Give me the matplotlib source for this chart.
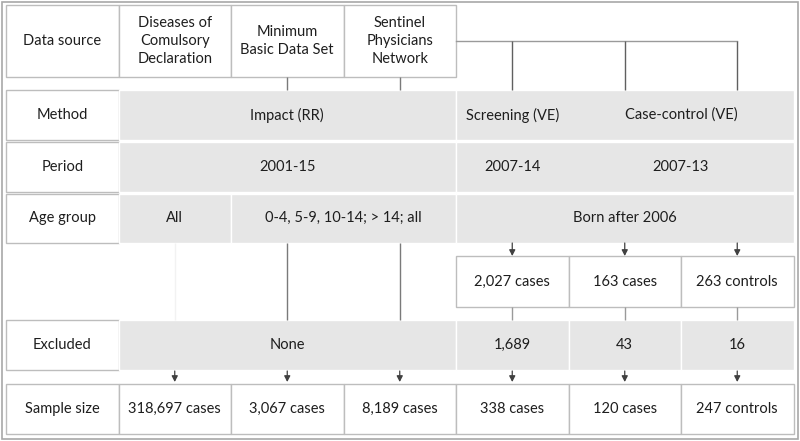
import matplotlib
matplotlib.use("Agg")
import matplotlib.pyplot as plt
from matplotlib.patches import Rectangle

plt.rcParams['font.family'] = ['Lato', 'DejaVu Sans']

# ---- data ----
row_labels = ["Data source", "Method", "Period", "Age group", "Excluded", "Sample size"]
sources = ["Diseases of\nComulsory\nDeclaration", "Minimum\nBasic Data Set", "Sentinel\nPhysicians\nNetwork"]
methods = ["Impact (RR)", "Screening (VE)", "Case-control (VE)"]
periods = ["2001-15", "2007-14", "2007-13"]
age_groups = ["All", "0-4, 5-9, 10-14; > 14; all", "Born after 2006"]
initial_counts = ["2,027 cases", "163 cases", "263 controls"]
excluded = ["None", "1,689", "43", "16"]
sample_sizes = ["318,697 cases", "3,067 cases", "8,189 cases", "338 cases", "120 cases", "247 controls"]

W, H = 800, 441
fig = plt.figure(figsize=(W / 100, H / 100), dpi=100)
ax = fig.add_axes([0, 0, 1, 1])
ax.set_xlim(0, W)
ax.set_ylim(H, 0)
ax.axis("off")

col_edges = [6, 118.5, 231, 343.5, 456, 568.5, 681, 793.5]
centers = [(col_edges[i] + col_edges[i + 1]) / 2 for i in range(7)]
GREY = "#e6e6e6"
BORDER = "#bdbdbd"
TXT = "#1e1e1e"
LINE = "#7a7a7a"
FS = 10.5

# outer frame
ax.add_patch(Rectangle((2, 1.5), 795.5, 437, fill=False, ec="#a8a8a8", lw=1.2))


def cell(x0, x1, y0, y1, text, fill="white", ec=BORDER, lw=1.0):
    ax.add_patch(Rectangle((x0, y0), x1 - x0, y1 - y0, fc=fill, ec=ec, lw=lw))
    if text:
        ax.text((x0 + x1) / 2, (y0 + y1) / 2, text, ha="center", va="center",
                fontsize=FS, color=TXT, linespacing=1.4)


def vline(x, y0, y1, color=LINE, lw=1.0):
    ax.plot([x, x], [y0, y1], color=color, lw=lw, solid_capstyle="butt")


def arrow(x, y0, y1):
    ax.annotate("", xy=(x, y1), xytext=(x, y0),
                arrowprops=dict(arrowstyle="-|>,head_length=0.35,head_width=0.18",
                                color="#404040", lw=0.9, shrinkA=0, shrinkB=0))


# rows (pixel y-ranges)
rows = {
    "src": (5, 77),
    "method": (90, 140),
    "period": (141.5, 192),
    "age": (193.5, 243),
    "init": (256, 307),
    "excl": (320, 370),
    "sample": (384, 434),
}

# Data source row
y0, y1 = rows["src"]
cell(col_edges[0], col_edges[1], y0, y1, row_labels[0])
for i, s in enumerate(sources):
    cell(col_edges[i + 1], col_edges[i + 2], y0, y1, s)

# connectors from sources to method row
for i in (2, 3):
    vline(centers[i], 77, 90)
ax.plot([col_edges[4], centers[6]], [41, 41], color="#9a9a9a", lw=1.0)
for i in (4, 5, 6):
    vline(centers[i], 41, 90, color="#606060")

# Method / Period / Age group rows
for key, lab in zip(["method", "period", "age"], row_labels[1:4]):
    a, b = rows[key]
    cell(col_edges[0], col_edges[1], a, b, lab)

a, b = rows["method"]
cell(col_edges[1], col_edges[4], a, b, methods[0], fill=GREY, ec="white")
cell(col_edges[4], col_edges[7], a, b, "", fill=GREY, ec="white")
ax.text(centers[4], (a + b) / 2, methods[1], ha="center", va="center", fontsize=FS, color=TXT)
ax.text((col_edges[5] + col_edges[7]) / 2, (a + b) / 2, methods[2], ha="center", va="center",
        fontsize=FS, color=TXT)

a, b = rows["period"]
cell(col_edges[1], col_edges[4], a, b, periods[0], fill=GREY, ec="white")
cell(col_edges[4], col_edges[7], a, b, "", fill=GREY, ec="white")
ax.text(centers[4], (a + b) / 2, periods[1], ha="center", va="center", fontsize=FS, color=TXT)
ax.text((col_edges[5] + col_edges[7]) / 2, (a + b) / 2, periods[2], ha="center", va="center",
        fontsize=FS, color=TXT)

a, b = rows["age"]
cell(col_edges[1], col_edges[2], a, b, age_groups[0], fill=GREY, ec="white")
cell(col_edges[2], col_edges[4], a, b, age_groups[1], fill=GREY, ec="white")
cell(col_edges[4], col_edges[7], a, b, age_groups[2], fill=GREY, ec="white")

# gap region connectors
vline(centers[1], 243, 320, color="#f2f2f2")
for i in (2, 3):
    vline(centers[i], 243, 320)
for i in (4, 5, 6):
    arrow(centers[i], 243, 256)

# initial counts
a, b = rows["init"]
for i, t in enumerate(initial_counts):
    cell(col_edges[4 + i], col_edges[5 + i], a, b, t)
for i in (4, 5, 6):
    vline(centers[i], 307, 320, color="#9a9a9a")

# Excluded row
a, b = rows["excl"]
cell(col_edges[0], col_edges[1], a, b, row_labels[4])
cell(col_edges[1], col_edges[4], a, b, excluded[0], fill=GREY, ec="white")
for i in range(3):
    cell(col_edges[4 + i], col_edges[5 + i], a, b, excluded[1 + i], fill=GREY, ec="white")

for i in range(1, 7):
    arrow(centers[i], 371, 382)

# Sample size row
a, b = rows["sample"]
cell(col_edges[0], col_edges[1], a, b, row_labels[5])
for i, t in enumerate(sample_sizes):
    cell(col_edges[1 + i], col_edges[2 + i], a, b, t)

fig.savefig("out.png", dpi=100)
